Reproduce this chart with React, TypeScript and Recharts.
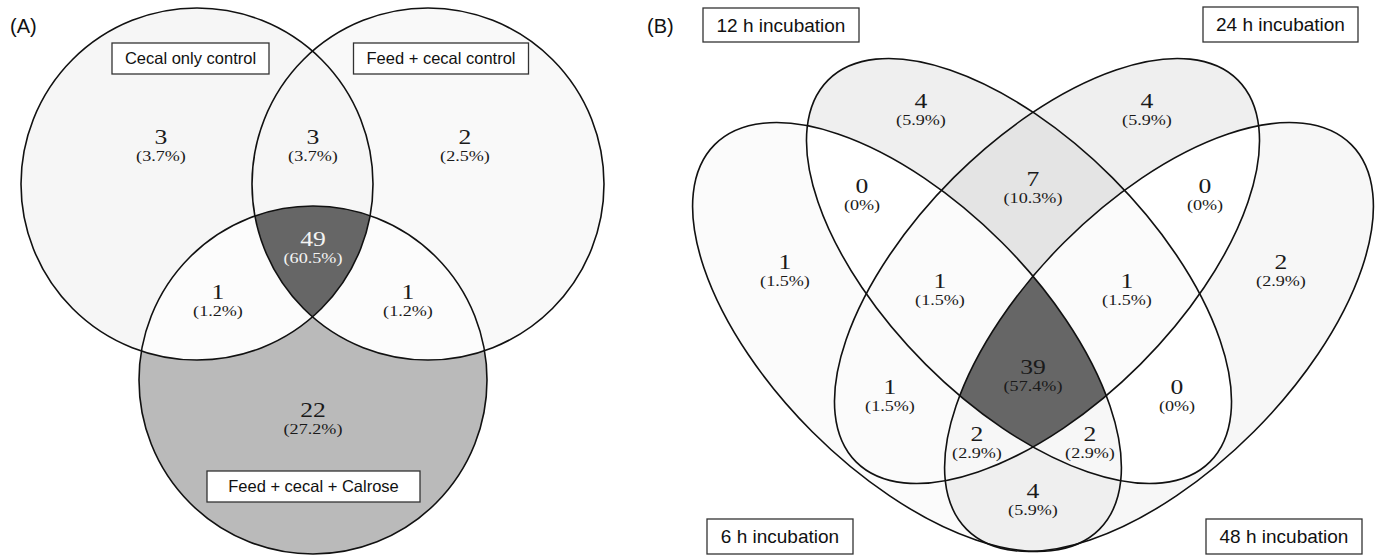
import React from 'react';
import { ScatterChart, Scatter, XAxis, YAxis } from 'recharts';

const W = 1379;
const H = 555;

// (A) three groups, regions keyed by the set indices they belong to
const setNamesA = ['Cecal only control', 'Feed + cecal control', 'Feed + cecal + Calrose'];
const regionsA = ['0', '1', '2', '01', '02', '12', '012'];
const countsA = [3, 2, 22, 3, 1, 1, 49];

// (B) four incubation times
const setNamesB = ['6 h incubation', '12 h incubation', '24 h incubation', '48 h incubation'];
const regionsB = ['0', '1', '2', '3', '01', '02', '03', '12', '13', '23', '012', '013', '023', '123', '0123'];
const countsB = [1, 4, 4, 2, 0, 1, 4, 7, 0, 0, 1, 2, 2, 1, 39];

// layout (chart units == pixels, axes span the whole picture)
const shapesA = [
  { x: 197, y: 184, rx: 176, ry: 176, rot: 0 },
  { x: 428, y: 184, rx: 176, ry: 176, rot: 0 },
  { x: 313, y: 380, rx: 174, ry: 174, rot: 0 },
];
const labelPosA = [[161, 138], [465, 138], [313, 411], [313, 138], [218, 293], [408, 293], [313, 240]];
const boxesA = [
  { x: 190.5, y: 58.5, w: 157, h: 31 },
  { x: 441, y: 58.5, w: 175, h: 31 },
  { x: 313.5, y: 486.5, w: 213, h: 31 },
];

const shapesB = [
  { x: 907, y: 337, rx: 272, ry: 134, rot: 45 },
  { x: 1019, y: 271, rx: 270, ry: 132, rot: 45 },
  { x: 1047, y: 271, rx: 270, ry: 132, rot: -45 },
  { x: 1159, y: 337, rx: 272, ry: 134, rot: -45 },
];
const labelPosB = [
  [785, 263], [921, 102], [1147, 102], [1281, 263],
  [862, 187], [890, 388], [1033, 492], [1033, 180], [1177, 388], [1205, 187],
  [940, 282], [1090, 435], [977, 435], [1127, 282], [1033, 368],
];
const boxesB = [
  { x: 780, y: 536.5, w: 146, h: 35 },
  { x: 781, y: 25, w: 156, h: 34 },
  { x: 1280.5, y: 24.5, w: 155, h: 35 },
  { x: 1284, y: 536.5, w: 156, h: 35 },
];

const panels = [
  { id: 'A', title: '(A)', titleX: 10, names: setNamesA, regions: regionsA, counts: countsA, shapes: shapesA, labelPos: labelPosA, boxes: boxesA, boxFont: 16.5, topText: '#f4f4f4' },
  { id: 'B', title: '(B)', titleX: 647, names: setNamesB, regions: regionsB, counts: countsB, shapes: shapesB, labelPos: labelPosB, boxes: boxesB, boxFont: 19, topText: '#1a1a1a' },
];

const grey = (c: number, max: number) => {
  const g = Math.round(255 - (153 * c) / max);
  return `rgb(${g},${g},${g})`;
};

const pctText = (c: number, total: number) => (c === 0 ? '0%' : `${((c / total) * 100).toFixed(1)}%`);

const clipData = panels.flatMap((p) => p.shapes.map((s, i) => ({ ...s, id: `${p.id}-${i}` })));

const fillData = panels.flatMap((p) => {
  const max = Math.max(...p.counts);
  return p.regions
    .map((r, i) => {
      const first = p.shapes[Number(r[0])];
      return {
        ...first,
        order: r.length,
        clips: r.slice(1).split('').map((k) => `${p.id}-${k}`),
        fill: grey(p.counts[i], max),
      };
    })
    .sort((a, b) => a.order - b.order);
});

const labelData = panels.flatMap((p) => {
  const max = Math.max(...p.counts);
  const total = p.counts.reduce((a, b) => a + b, 0);
  return p.regions.map((r, i) => ({
    x: p.labelPos[i][0],
    y: p.labelPos[i][1],
    count: p.counts[i],
    pct: pctText(p.counts[i], total),
    color: p.counts[i] === max ? p.topText : '#1a1a1a',
  }));
});

const boxData = panels.flatMap((p) => p.boxes.map((b, i) => ({ ...b, text: p.names[i], fs: p.boxFont })));

const titleData = panels.map((p) => ({ x: p.titleX, y: 33, text: p.title }));

const rot = (p: any, cx: number, cy: number) => `rotate(${p.rot} ${cx} ${cy})`;

const ClipShape = (props: any) => {
  const { cx, cy, payload } = props;
  return (
    <defs>
      <clipPath id={`vclip-${payload.id}`}>
        <ellipse cx={cx} cy={cy} rx={payload.rx} ry={payload.ry} transform={rot(payload, cx, cy)} />
      </clipPath>
    </defs>
  );
};

const FillShape = (props: any) => {
  const { cx, cy, payload } = props;
  let node = <ellipse cx={cx} cy={cy} rx={payload.rx} ry={payload.ry} transform={rot(payload, cx, cy)} fill={payload.fill} stroke="none" />;
  payload.clips.forEach((id: string) => {
    node = <g clipPath={`url(#vclip-${id})`}>{node}</g>;
  });
  return <g>{node}</g>;
};

const OutlineShape = (props: any) => {
  const { cx, cy, payload } = props;
  return <ellipse cx={cx} cy={cy} rx={payload.rx} ry={payload.ry} transform={rot(payload, cx, cy)} fill="none" stroke="#111" strokeWidth={1.6} />;
};

// count over percentage; glyphs are drawn a little wide like the original figure
const LabelShape = (props: any) => {
  const { cx, cy, payload } = props;
  return (
    <g transform={`translate(${cx},${cy}) scale(1.25,1)`} fill={payload.color} fontFamily="'Liberation Serif', 'Times New Roman', serif">
      <text x={0} y={6} textAnchor="middle" fontSize={20.5}>{payload.count}</text>
      <text x={0} y={23.5} textAnchor="middle" fontSize={14.5}>{`(${payload.pct})`}</text>
    </g>
  );
};

const BoxShape = (props: any) => {
  const { cx, cy, payload } = props;
  return (
    <g>
      <rect x={cx - payload.w / 2} y={cy - payload.h / 2} width={payload.w} height={payload.h} fill="#fff" stroke="#333" strokeWidth={1.3} />
      <text x={cx} y={cy + payload.fs * 0.36} textAnchor="middle" fontSize={payload.fs} fontFamily="'Liberation Sans', Arial, sans-serif" fill="#111">
        {payload.text}
      </text>
    </g>
  );
};

const TitleShape = (props: any) => {
  const { cx, cy, payload } = props;
  return (
    <text x={cx} y={cy} fontSize={20} fontFamily="'Liberation Sans', Arial, sans-serif" fill="#111">
      {payload.text}
    </text>
  );
};

const App: React.FC = () => {
  return (
    <div style={{ position: 'absolute', left: 0, top: 0, width: W, height: H, background: '#fff' }}>
      <ScatterChart width={W} height={H} margin={{ top: 0, right: 0, bottom: 0, left: 0 }}>
        <XAxis type="number" dataKey="x" domain={[0, W]} allowDataOverflow hide />
        <YAxis type="number" dataKey="y" domain={[0, H]} allowDataOverflow reversed hide />
        <Scatter data={clipData} shape={ClipShape} isAnimationActive={false} />
        <Scatter data={fillData} shape={FillShape} isAnimationActive={false} />
        <Scatter data={clipData} shape={OutlineShape} isAnimationActive={false} />
        <Scatter data={labelData} shape={LabelShape} isAnimationActive={false} />
        <Scatter data={boxData} shape={BoxShape} isAnimationActive={false} />
        <Scatter data={titleData} shape={TitleShape} isAnimationActive={false} />
      </ScatterChart>
    </div>
  );
};

export default App;
